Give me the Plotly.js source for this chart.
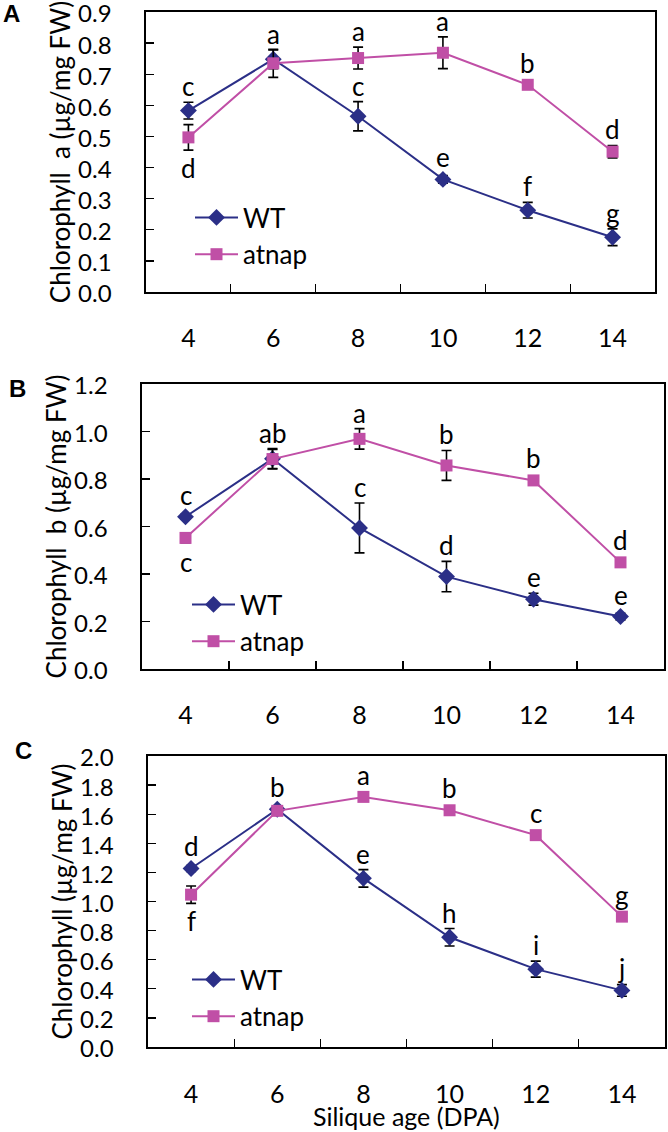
<!DOCTYPE html>
<html>
<head>
<meta charset="utf-8">
<script src="https://cdn.plot.ly/plotly-3.0.1.min.js"></script>
<style>
  body { margin: 0; background: #fff; }
  #chlPlot { width: 668px; height: 1132px; }
</style>
</head>
<body>
<div id="chlPlot"></div>
<script>
// silique age, days post anthesis
const days = [4, 6, 8, 10, 12, 14];

// A: chlorophyll a (ug/mg FW)
const chlA_wt      = [0.583, 0.748, 0.565, 0.362, 0.263, 0.176];
const chlA_wt_err  = [0.027, 0.030, 0.047, 0.012, 0.025, 0.027];
const chlA_at      = [0.497, 0.735, 0.752, 0.769, 0.666, 0.451];
const chlA_at_err  = [0.041, 0.045, 0.035, 0.051, 0.006, 0.020];
const chlA_wt_lett = ['c', 'a', 'c', 'e', 'f', 'g'];
const chlA_at_lett = ['d', '', 'a', 'a', 'b', 'd'];

// B: chlorophyll b
const chlB_wt      = [0.641, 0.885, 0.594, 0.389, 0.294, 0.221];
const chlB_wt_err  = [0.010, 0.043, 0.105, 0.064, 0.025, 0.014];
const chlB_at      = [0.552, 0.884, 0.969, 0.857, 0.794, 0.449];
const chlB_at_err  = [0.020, 0.040, 0.043, 0.063, 0.008, 0.010];
const chlB_wt_lett = ['c', 'ab', 'c', 'd', 'e', 'e'];
const chlB_at_lett = ['c', '', 'a', 'b', 'b', 'd'];

// C: total chlorophyll
const chlT_wt      = [1.227, 1.634, 1.159, 0.754, 0.535, 0.389];
const chlT_wt_err  = [0.020, 0.020, 0.060, 0.060, 0.055, 0.040];
const chlT_at      = [1.047, 1.623, 1.719, 1.627, 1.456, 0.896];
const chlT_at_err  = [0.060, 0.010, 0.010, 0.010, 0.010, 0.010];
const chlT_wt_lett = ['d', 'b', 'e', 'h', 'i', 'j'];
const chlT_at_lett = ['f', '', 'a', 'b', 'c', 'g'];

const panelTags = ['A', 'B', 'C'];
const yTitles = ['Chlorophyll\u00a0 a (µg/mg FW)', 'Chlorophyll\u00a0 b (µg/mg FW)', 'Chlorophyll (µg/mg FW)'];
const xTitle = 'Silique age (DPA)';

const W = 668, H = 1132;
const navy = '#2b2f87', pink = '#c04fa6';
const fam = 'Lato, "Open Sans", sans-serif';

// panel boxes in px: left, right, top, bottom
const boxes = [[146, 655, 12, 292], [142, 664, 384, 669], [148, 665, 756, 1047]];
const yMax  = [0.9, 1.2, 2.0];
const yStep = [0.1, 0.2, 0.2];
const legTop = [194, 581, 956];
const legLeft = [190, 187, 187];
const tagPos = [[11, 14], [17, 388], [23, 750]];

const panels = [
  {wt: chlA_wt, wtErr: chlA_wt_err, at: chlA_at, atErr: chlA_at_err, wtL: chlA_wt_lett, atL: chlA_at_lett},
  {wt: chlB_wt, wtErr: chlB_wt_err, at: chlB_at, atErr: chlB_at_err, wtL: chlB_wt_lett, atL: chlB_at_lett},
  {wt: chlT_wt, wtErr: chlT_wt_err, at: chlT_at, atErr: chlT_at_err, wtL: chlT_wt_lett, atL: chlT_at_lett}
];

var data = [];
var layout = {
  width: W, height: H,
  margin: {l: 0, r: 0, t: 0, b: 0},
  paper_bgcolor: 'white', plot_bgcolor: 'white',
  font: {family: fam, color: 'black', size: 25},
  annotations: []
};

panels.forEach(function (p, k) {
  let s = k === 0 ? '' : String(k + 1);
  let b = boxes[k];
  let pxPer = (b[3] - b[2]) / yMax[k];
  let nT = Math.round(yMax[k] / yStep[k]);
  let yt = Array.from(Array(nT + 1), (_, i) => +(i * yStep[k]).toFixed(1));

  data.push({
    x: days, y: p.wt, name: 'WT', mode: 'lines+markers',
    xaxis: 'x' + s, yaxis: 'y' + s, legend: 'legend' + s,
    line: {color: navy, width: 2},
    marker: {symbol: 'diamond', size: 13, color: navy},
    error_y: {type: 'data', array: p.wtErr, visible: true, color: 'black', thickness: 1.6, width: 5}
  });
  data.push({
    x: days, y: p.at, name: 'atnap', mode: 'lines+markers',
    xaxis: 'x' + s, yaxis: 'y' + s, legend: 'legend' + s,
    line: {color: pink, width: 2},
    marker: {symbol: 'square', size: 12, color: pink},
    error_y: {type: 'data', array: p.atErr, visible: true, color: 'black', thickness: 1.6, width: 5}
  });

  layout['xaxis' + s] = {
    domain: [b[0] / W, b[1] / W], anchor: 'y' + s,
    range: [3, 15], tickmode: 'array', tickvals: days, ticks: '',
    ticklabelstandoff: k === 2 ? 24 : 23,
    minor: {tickmode: 'array', tickvals: [5, 7, 9, 11, 13], ticks: 'inside', ticklen: 8, tickcolor: 'black', tickwidth: 1.3},
    showline: true, mirror: true, linecolor: 'black', linewidth: 1.6,
    showgrid: false, zeroline: false, fixedrange: true,
    tickfont: {size: 25}
  };

  layout['yaxis' + s] = {
    domain: [1 - b[3] / H, 1 - b[2] / H], anchor: 'x' + s,
    range: [0, yMax[k]], tickmode: 'array', tickvals: yt, tickformat: '.1f',
    ticks: 'inside', ticklen: 8, tickcolor: 'black', tickwidth: 1.3,
    ticklabelstandoff: 28, ticklabeloverflow: 'allow', ticklabelshift: 2,
    showline: true, mirror: true, linecolor: 'black', linewidth: 1.6,
    showgrid: false, zeroline: false, fixedrange: true,
    tickfont: {size: 24},
    title: {text: yTitles[k], font: {size: 26}, standoff: 0}
  };

  layout['legend' + s] = {
    x: legLeft[k] / W, y: 1 - legTop[k] / H,
    xanchor: 'left', yanchor: 'top', itemwidth: 43,
    bgcolor: 'rgba(0,0,0,0)', font: {size: 26}, tracegroupgap: 0
  };

  // significance letters
  days.forEach(function (d, i) {
    let wtTop = Math.max(p.wtErr[i] * pxPer, 6);
    let atTop = Math.max(p.atErr[i] * pxPer, 6);
    if (p.wtL[i]) {
      layout.annotations.push({
        x: d, y: p.wt[i], xref: 'x' + s, yref: 'y' + s, text: p.wtL[i],
        showarrow: false, yanchor: 'middle', yshift: wtTop + 16, font: {size: 26}
      });
    }
    if (p.atL[i]) {
      let below = i === 0 && p.at[i] < p.wt[i];
      layout.annotations.push({
        x: d, y: p.at[i], xref: 'x' + s, yref: 'y' + s, text: p.atL[i],
        showarrow: false, yanchor: 'middle', yshift: below ? -(atTop + 18) : atTop + 16, font: {size: 26}
      });
    }
  });

  layout.annotations.push({
    x: tagPos[k][0] / W, y: 1 - tagPos[k][1] / H, xanchor: 'center', yanchor: 'middle',
    xref: 'paper', yref: 'paper', text: '<b>' + panelTags[k] + '</b>',
    showarrow: false, font: {family: '"Liberation Sans", Arial, sans-serif', size: 24}
  });
});

// x axis title under the bottom panel
layout.annotations.push({
  x: (boxes[2][0] + boxes[2][1]) / 2 / W, y: 0, xanchor: 'center', yanchor: 'bottom',
  xref: 'paper', yref: 'paper', text: xTitle, showarrow: false, font: {size: 25}, borderpad: 0
});

Plotly.newPlot('chlPlot', data, layout, {displayModeBar: false, staticPlot: true});
</script>
</body>
</html>
